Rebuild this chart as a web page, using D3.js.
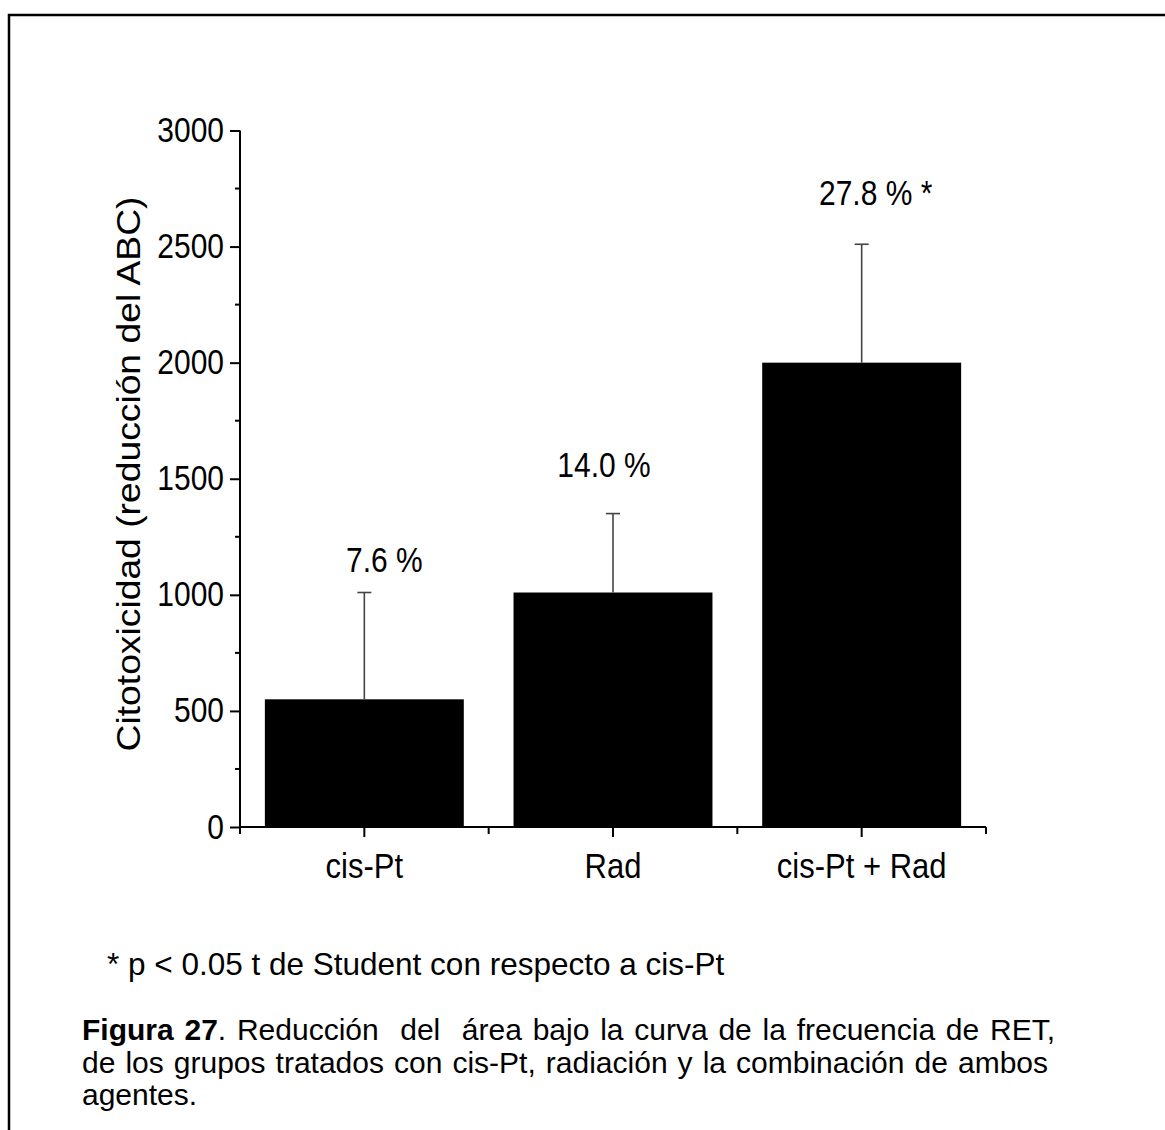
<!DOCTYPE html>
<html><head><meta charset="utf-8">
<script src="https://cdn.jsdelivr.net/npm/d3@7"></script>
<style>body{margin:0;background:#fff}svg{display:block;font-family:"Liberation Sans",Arial,sans-serif}</style>
</head><body><svg id="c" width="1165" height="1130"></svg>
<script>
const categories = ["cis-Pt", "Rad", "cis-Pt + Rad"];
const values = [550, 1010, 2000];
const errors = [460, 340, 510];
const pctLabels = ["7.6 %", "14.0 %", "27.8 % *"];
const pctLabelAt = [1098, 1507, 2680];
const yTicks = [0, 500, 1000, 1500, 2000, 2500, 3000];
const yMinorTicks = [250, 750, 1250, 1750, 2250, 2750];
const yLabel = "Citotoxicidad (reducción del ABC)";
const footnote = "* p < 0.05 t de Student con respecto a cis-Pt";
const captionBold = "Figura 27";
const captionLines = [". Reducción  del  área bajo la curva de la frecuencia de RET,",
  "de los grupos tratados con cis-Pt, radiación y la combinación de ambos",
  "agentes."];

const S = 1.15; // vertical stretch of the chart text
const svg = d3.select("#c");
svg.append("rect").attr("x", 9).attr("y", 15).attr("width", 1200).attr("height", 1200)
  .attr("fill", "none").attr("stroke", "#000").attr("stroke-width", 2.5);

const x = d3.scaleBand().domain(categories).range([240, 986]).paddingInner(0.2).paddingOuter(0.1);
const y = d3.scaleLinear().domain([0, 3000]).range([827, 130.5]);

svg.selectAll("rect.bar").data(values).enter().append("rect").attr("class", "bar")
  .attr("x", (d, i) => x(categories[i])).attr("width", x.bandwidth())
  .attr("y", d => y(d)).attr("height", d => y(0) - y(d)).attr("fill", "#000");

const eg = svg.append("g").attr("stroke", "#444").attr("stroke-width", 1.6);
values.forEach((v, i) => {
  const cx = x(categories[i]) + x.bandwidth() / 2;
  eg.append("line").attr("x1", cx).attr("x2", cx).attr("y1", y(v)).attr("y2", y(v + errors[i]));
  eg.append("line").attr("x1", cx - 7).attr("x2", cx + 7).attr("y1", y(v + errors[i])).attr("y2", y(v + errors[i]));
});

// y axis
const yAxis = svg.append("g").attr("transform", "translate(240,0)")
  .call(d3.axisLeft(y).tickValues(yTicks).tickSize(10).tickPadding(6).tickFormat(d3.format("d")));
yAxis.append("g").selectAll("line").data(yMinorTicks).enter().append("line")
  .attr("x1", -5).attr("x2", 0).attr("y1", d => y(d)).attr("y2", d => y(d));
yAxis.select(".domain").attr("d", `M0,${y(3000)}V${y(0)}`);
yAxis.selectAll("line, path").attr("stroke", "#000").attr("stroke-width", 2);
yAxis.selectAll(".tick text").attr("font-size", 30).attr("fill", "#000")
  .attr("font-family", "Liberation Sans, Arial, sans-serif")
  .attr("dy", null).attr("y", 0).attr("transform", `translate(0,11) scale(1,${S})`);

// x axis
const xAxis = svg.append("g").attr("transform", `translate(0,${y(0)})`)
  .call(d3.axisBottom(x).tickSize(10));
const bounds = [240, x(categories[1]) - x.step() * 0.1, x(categories[2]) - x.step() * 0.1, 986];
xAxis.append("g").selectAll("line").data(bounds).enter().append("line")
  .attr("x1", d => d).attr("x2", d => d).attr("y1", 0).attr("y2", 7);
xAxis.select(".domain").attr("d", "M240,0H986");
xAxis.selectAll("line, path").attr("stroke", "#000").attr("stroke-width", 2);
xAxis.selectAll(".tick text").attr("font-size", 31).attr("fill", "#000")
  .attr("font-family", "Liberation Sans, Arial, sans-serif")
  .attr("dy", null).attr("y", 0).attr("transform", `translate(0,51) scale(1,${S})`);

// value labels
const pctDx = [20, -9, 14];
svg.selectAll("text.pct").data(pctLabels).enter().append("text").attr("class", "pct")
  .attr("transform", (d, i) => `translate(${x(categories[i]) + x.bandwidth() / 2 + pctDx[i]},${y(pctLabelAt[i])}) scale(1,${S})`)
  .attr("text-anchor", "middle").attr("font-size", 30).text(d => d);

// y label
const yl = svg.append("text").attr("text-anchor", "middle").attr("font-size", 33).text(yLabel);
const ylLen = yl.node().getComputedTextLength();
yl.attr("transform", `translate(140,474) rotate(-90) scale(${555 / ylLen},1)`);

// footnote
svg.append("text").attr("x", 107).attr("y", 975).attr("font-size", 31.5).text(footnote);

// caption
function justify(sel, target) {
  const n = (sel.text().match(/ /g) || []).length;
  const w = sel.node().getComputedTextLength();
  if (n && target > w) sel.attr("word-spacing", (target - w) / n);
}
const cap = svg.append("text").attr("x", 82).attr("y", 1040)
  .attr("font-size", 30).attr("xml:space", "preserve");
cap.append("tspan").attr("font-weight", "bold").text(captionBold);
cap.append("tspan").text(captionLines[0]);
justify(cap, 973);
captionLines.slice(1).forEach((l, i) => {
  const t = svg.append("text").attr("x", 82).attr("y", 1073 + i * 32)
    .attr("font-size", 30).attr("xml:space", "preserve").text(l);
  if (i === 0) justify(t, 966);
});
</script></body></html>
